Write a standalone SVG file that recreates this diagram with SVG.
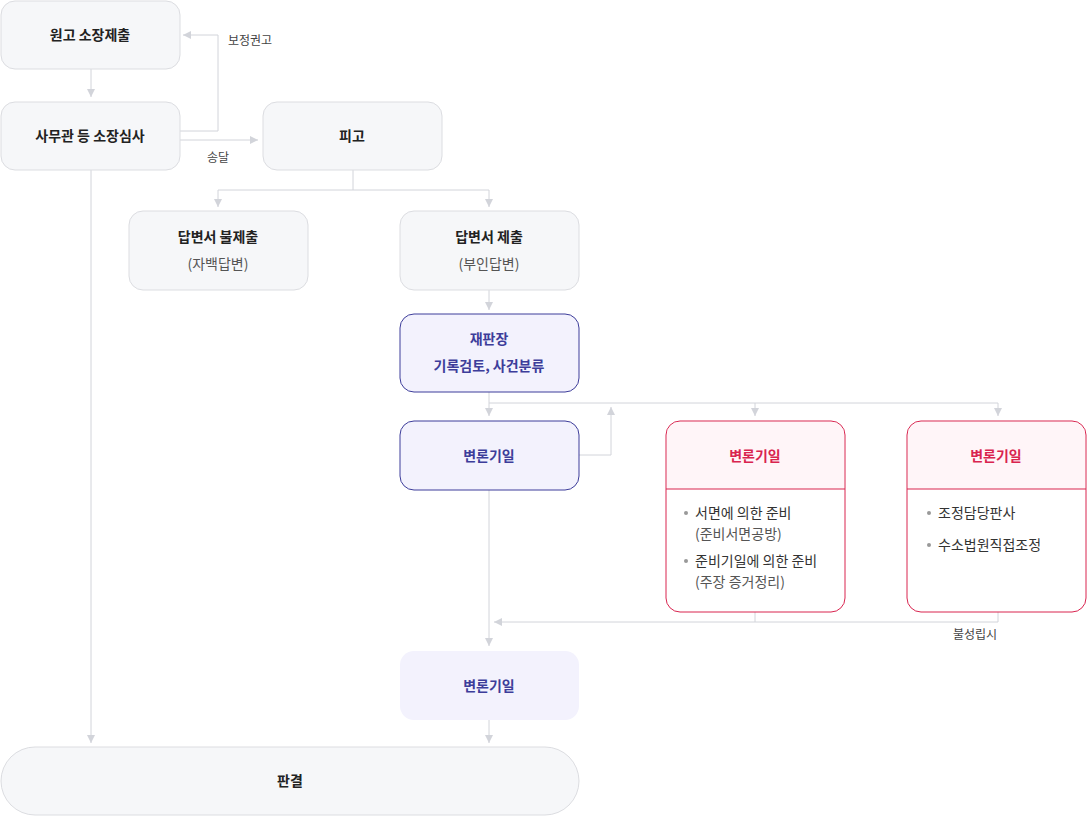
<svg xmlns="http://www.w3.org/2000/svg" width="1087" height="817" viewBox="0 0 1087 817">
<style>
text{font-family:"Noto Sans CJK KR","Noto Sans",sans-serif;text-anchor:middle}
.g{fill:#f6f7f9;stroke:#dcdde1;stroke-width:1}
.b{fill:#f3f2fd;stroke:#3d3d9a;stroke-width:1}
.p{fill:#fff;stroke:#d9244f;stroke-width:1}
.t{font-size:14px;font-weight:700;fill:#222}
.s{font-size:14px;fill:#555}
.bt{font-size:14px;font-weight:700;fill:#3d3d9a}
.pt{font-size:14px;font-weight:700;fill:#d9244f}
.li{font-size:14px;fill:#333;text-anchor:start}
.sub{font-size:14px;fill:#555;text-anchor:start}
.lbl{font-size:12px;fill:#444}
.c{fill:none;stroke:#d2d4da;stroke-width:1}
</style>
<defs>
<marker id="a" markerUnits="userSpaceOnUse" markerWidth="9" markerHeight="8" refX="8" refY="4" orient="auto"><path d="M0,0 L8,4 L0,8 z" fill="#d2d4da"/></marker>
</defs>
<g id="connectors">
<path class="c" d="M91,69 V97" marker-end="url(#a)"/>
<path class="c" d="M180,131 H218 V35 H183" marker-end="url(#a)"/>
<path class="c" d="M180,140 H258" marker-end="url(#a)"/>
<path class="c" d="M353,170 V190 M218,190 H489"/>
<path class="c" d="M218,190 V207" marker-end="url(#a)"/>
<path class="c" d="M489,190 V207" marker-end="url(#a)"/>
<path class="c" d="M489,290 V310" marker-end="url(#a)"/>
<path class="c" d="M489,392 V403 H998"/>
<path class="c" d="M489,403 V416" marker-end="url(#a)"/>
<path class="c" d="M755,403 V416" marker-end="url(#a)"/>
<path class="c" d="M998,403 V416" marker-end="url(#a)"/>
<path class="c" d="M579,455 H611 V407" marker-end="url(#a)"/>
<path class="c" d="M91,170 V743" marker-end="url(#a)"/>
<path class="c" d="M489,490 V646" marker-end="url(#a)"/>
<path class="c" d="M755,612 V622 M998,612 V622 H494" marker-end="url(#a)"/>
<path class="c" d="M489,720 V743" marker-end="url(#a)"/>
<text class="lbl" x="250" y="45">보정권고</text>
<text class="lbl" x="218" y="162">송달</text>
<text class="lbl" x="975" y="639">불성립시</text>
</g>
<g id="n1"><rect class="g" x="1" y="1" width="179" height="68" rx="14"/><text class="t" x="90" y="40">원고 소장제출</text></g>
<g id="n2"><rect class="g" x="1" y="102" width="179" height="68" rx="14"/><text class="t" x="90" y="141">사무관 등 소장심사</text></g>
<g id="n3"><rect class="g" x="263" y="102" width="179" height="68" rx="14"/><text class="t" x="352" y="141">피고</text></g>
<g id="n4"><rect class="g" x="129" y="211" width="179" height="79" rx="14"/><text class="t" x="218" y="242">답변서 불제출</text><text class="s" x="218" y="269">(자백답변)</text></g>
<g id="n5"><rect class="g" x="400" y="211" width="179" height="79" rx="14"/><text class="t" x="489" y="242">답변서 제출</text><text class="s" x="489" y="269">(부인답변)</text></g>
<g id="n6"><rect class="b" x="400" y="314" width="179" height="78" rx="14"/><text class="bt" x="489" y="344">재판장</text><text class="bt" x="489" y="371">기록검토, 사건분류</text></g>
<g id="n7"><rect class="b" x="400" y="421" width="179" height="69" rx="14"/><text class="bt" x="489" y="461">변론기일</text></g>
<g id="n8"><rect class="p" x="666" y="421" width="179" height="191" rx="14"/><path d="M667,489 V435 a13,13 0 0 1 13,-13 H831 a13,13 0 0 1 13,13 V489 z" fill="#fff5f8"/><path d="M666,489 H845" stroke="#d9244f"/><text class="pt" x="755" y="461">변론기일</text>
<circle cx="686" cy="513" r="2" fill="#999"/><text class="li" x="695" y="518">서면에 의한 준비</text><text class="sub" x="695" y="539">(준비서면공방)</text>
<circle cx="686" cy="561" r="2" fill="#999"/><text class="li" x="695" y="566">준비기일에 의한 준비</text><text class="sub" x="695" y="587">(주장 증거정리)</text></g>
<g id="n9"><rect class="p" x="907" y="421" width="179" height="191" rx="14"/><path d="M908,489 V435 a13,13 0 0 1 13,-13 H1072 a13,13 0 0 1 13,13 V489 z" fill="#fff5f8"/><path d="M907,489 H1086" stroke="#d9244f"/><text class="pt" x="996" y="461">변론기일</text>
<circle cx="929" cy="513" r="2" fill="#999"/><text class="li" x="938" y="518">조정담당판사</text>
<circle cx="929" cy="545" r="2" fill="#999"/><text class="li" x="938" y="550">수소법원직접조정</text></g>
<g id="n10"><rect x="400" y="651" width="179" height="69" rx="14" fill="#f3f2fd"/><text class="bt" x="489" y="691">변론기일</text></g>
<g id="n11"><rect class="g" x="1" y="747" width="578" height="68" rx="34"/><text class="t" x="290" y="786">판결</text></g>
</svg>
